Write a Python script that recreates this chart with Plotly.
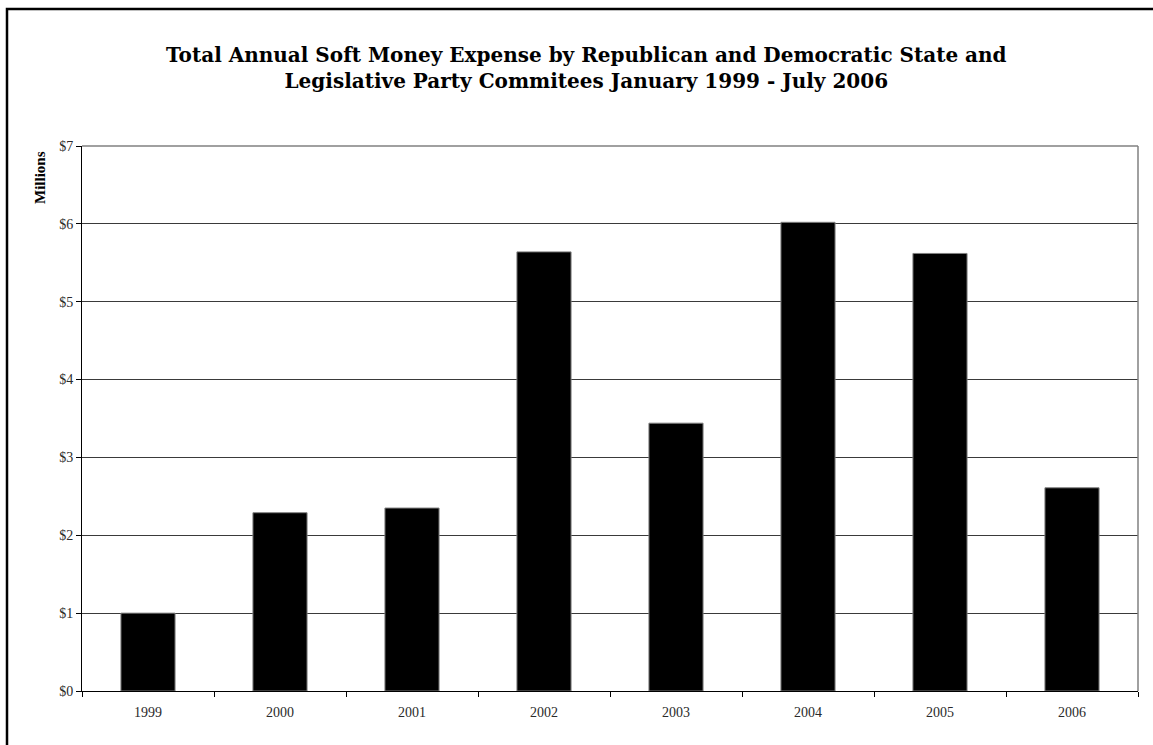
import plotly.graph_objects as go

years = ["1999", "2000", "2001", "2002", "2003", "2004", "2005", "2006"]
expense_millions = [1.0, 2.29, 2.35, 5.64, 3.44, 6.02, 5.62, 2.61]
y_tick_vals = [0, 1, 2, 3, 4, 5, 6, 7]
y_tick_text = ["$0", "$1", "$2", "$3", "$4", "$5", "$6", "$7"]
title_text = ("Total Annual Soft Money Expense by Republican and Democratic State and<br>"
              "Legislative Party Commitees January 1999 - July 2006")

W, H = 1153, 745
L, R, T, B = 82, 15, 146, 54
pw, ph = W - L - R, H - T - B

def px_x(p):
    return (p - L) / pw

def px_y(p):
    return (H - B - p) / ph

fig = go.Figure()
fig.add_trace(go.Bar(
    x=years, y=expense_millions,
    marker=dict(color="black", line=dict(color="#808080", width=1)),
    width=0.41,
))

serif = "Liberation Serif, Times New Roman, serif"
fig.update_layout(
    width=W, height=H,
    margin=dict(l=L, r=R, t=T, b=B),
    paper_bgcolor="white", plot_bgcolor="white",
    showlegend=False,
    font=dict(family=serif, color="#222222", size=14),
    xaxis=dict(
        type="category", showgrid=False, ticks="outside", tickson="boundaries",
        ticklen=5, tickcolor="black", showline=True, linecolor="black", linewidth=1,
        tickfont=dict(family=serif, size=14, color="#2a2a2a"), mirror=False,
        range=[-0.5, 7.5], ticklabelstandoff=8,
    ),
    yaxis=dict(
        range=[0, 7], tickvals=y_tick_vals, ticktext=y_tick_text,
        showgrid=True, gridcolor="#3a3a3a", gridwidth=1,
        ticks="outside", ticklen=5, tickcolor="black",
        showline=True, linecolor="black", linewidth=1,
        tickfont=dict(family=serif, size=14, color="#2a2a2a"),
        zeroline=False,
    ),
    shapes=[
        dict(type="line", xref="paper", yref="paper", x0=0, x1=1, y0=1, y1=1,
             line=dict(color="#808080", width=1.5)),
        dict(type="line", xref="paper", yref="paper", x0=1, x1=1, y0=0, y1=1,
             line=dict(color="#808080", width=1.5)),
        dict(type="rect", xref="paper", yref="paper",
             x0=px_x(7), x1=px_x(1170), y0=px_y(9), y1=px_y(770),
             line=dict(color="black", width=2.5), fillcolor="rgba(0,0,0,0)", layer="above"),
    ],
    annotations=[
        dict(text="<b>" + title_text + "</b>", xref="paper", yref="paper",
             x=px_x(586), y=px_y(68), xanchor="center", yanchor="middle",
             showarrow=False, font=dict(family="DejaVu Serif, serif", size=20, color="black"),
             align="center"),
        dict(text="<b>Millions</b>", xref="paper", yref="paper",
             x=px_x(40), y=px_y(178), xanchor="center", yanchor="middle",
             textangle=-90, showarrow=False,
             font=dict(family=serif, size=15, color="black")),
    ],
)

fig.write_html("out.html")
